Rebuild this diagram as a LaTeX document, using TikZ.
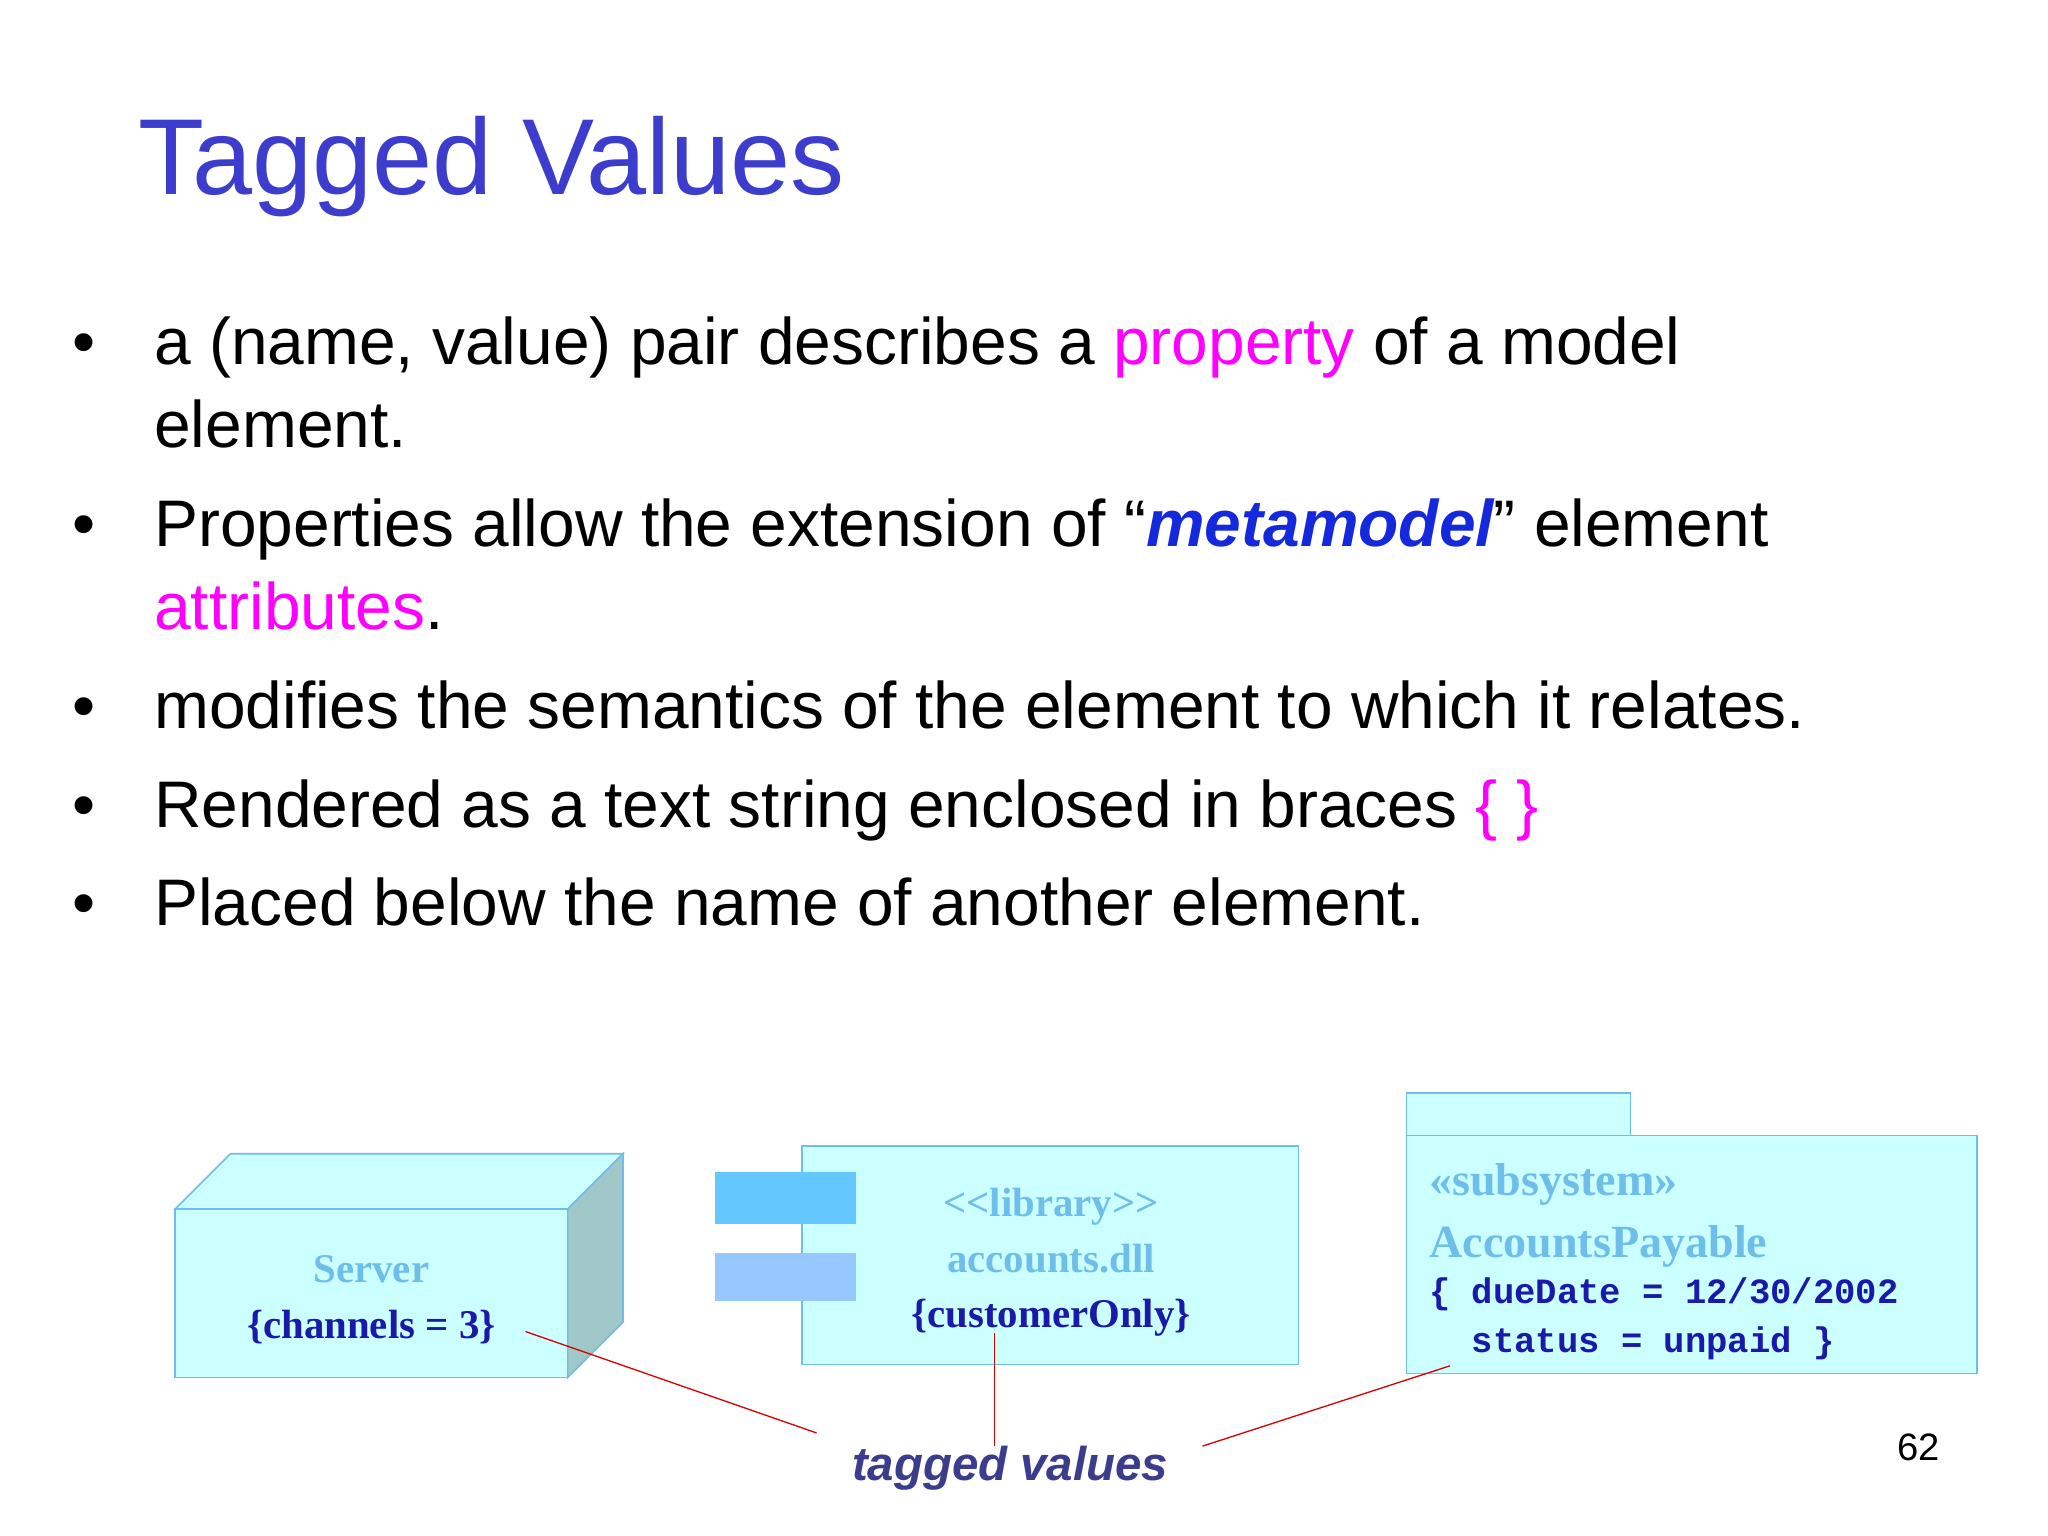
\documentclass[tikz,border=0pt]{standalone}
\usepackage{fontspec}
\setmainfont{Liberation Sans}
\newfontfamily\tms{Liberation Serif}
\newfontfamily\mono{Liberation Mono}
\definecolor{ttl}{RGB}{60,60,205}
\definecolor{mag}{RGB}{255,0,255}
\definecolor{mblue}{RGB}{20,40,220}
\definecolor{fillc}{RGB}{204,255,255}
\definecolor{edgec}{RGB}{110,190,235}
\definecolor{sidec}{RGB}{160,200,200}
\definecolor{dblue}{RGB}{25,25,170}
\definecolor{tv}{RGB}{60,60,140}
\definecolor{c1}{RGB}{100,200,255}
\definecolor{c2}{RGB}{150,200,255}
\begin{document}
\begin{tikzpicture}[x=1pt,y=-1pt,
  bul/.style={anchor=base west,inner sep=0,font=\fontsize{50}{60}\selectfont},
  box/.style={fill=fillc,draw=edgec,line width=1.2pt},
  lbl/.style={font=\tms\bfseries\fontsize{31}{36}\selectfont,inner sep=0,anchor=base},
  tag/.style={draw=red!85!black,line width=1pt}]
\useasboundingbox[fill=white] (0,0) rectangle (1555,1166);
\node[anchor=base west,inner sep=0,text=ttl,font=\fontsize{82}{90}\selectfont] (title) at (105,148) {Tagged Values};
\foreach \y in {277,415,553,628,703}{\node[bul] at (55,\y) {•};}
\node[bul] (b1) at (117,277) {a (name, value) pair describes a \textcolor{mag}{property} of a model};
\node[bul] (b1b) at (117,340) {element.};
\node[bul] (b2) at (117,415) {Properties allow the extension of “\textcolor{mblue}{\bfseries\itshape metamodel}” element};
\node[bul] (b2b) at (117,478) {\textcolor{mag}{attributes}.};
\node[bul] (b3) at (117,553) {modifies the semantics of the element to which it relates.};
\node[bul] (b4) at (117,628) {Rendered as a text string enclosed in braces \textcolor{mag}{\{ \}}};
\node[bul] (b5) at (117,703) {Placed below the name of another element.};
% server
\draw[box] (133,918) -- (175,876) -- (473,876) -- (431,918) -- cycle;
\draw[box,fill=sidec] (431,918) -- (473,876) -- (473,1004) -- (431,1046) -- cycle;
\draw[box] (133,918) rectangle (431,1046);
\node[lbl,text=edgec] (srv) at (282,974) {Server};
\node[lbl,text=dblue] (ch) at (282,1016) {\{channels = 3\}};
% component
\draw[box] (609,870) rectangle (986,1036);
\fill[c1] (543,890) rectangle (650,929);
\fill[c2] (543,951) rectangle (650,988);
\node[lbl,text=edgec] (lib) at (798,924) {<{}<library>{}>};
\node[lbl,text=edgec] (dll) at (798,966) {accounts.dll};
\node[lbl,text=dblue] (co) at (798,1008) {\{customerOnly\}};
% package
\draw[box] (1068,830) rectangle (1238,862);
\draw[box] (1068,862) rectangle (1501,1043);
\node[lbl,anchor=base west,text=edgec,font=\tms\bfseries\fontsize{35}{40}\selectfont] (ss) at (1085,908) {«subsystem»};
\node[lbl,anchor=base west,text=edgec,font=\tms\bfseries\fontsize{35}{40}\selectfont] (ap) at (1085,955) {AccountsPayable};
\node[anchor=base west,inner sep=0,text=dblue,font=\mono\bfseries\fontsize{27}{30}\selectfont] (dd) at (1085,990) {\{ dueDate = 12/30/2002};
\node[anchor=base west,inner sep=0,text=dblue,font=\mono\bfseries\fontsize{27}{30}\selectfont] (st) at (1085,1027) {\ \ status = unpaid \}};
% tagged values
\node[anchor=base,inner sep=0,text=tv,font=\bfseries\itshape\fontsize{36}{40}\selectfont] (tvl) at (767,1124) {tagged values};
\coordinate (a1) at (399,1011); \coordinate (a2) at (620,1088);
\coordinate (b1e) at (755,1012); \coordinate (b2e) at (755,1098);
\coordinate (c1e) at (1101,1037); \coordinate (c2e) at (913,1098);
\draw[tag] (a1) -- (a2); \draw[tag] (b1e) -- (b2e); \draw[tag] (c1e) -- (c2e);
\node[anchor=base,inner sep=0,font=\fontsize{29}{32}\selectfont] (pg) at (1457,1109) {62};
\end{tikzpicture}
\end{document}
